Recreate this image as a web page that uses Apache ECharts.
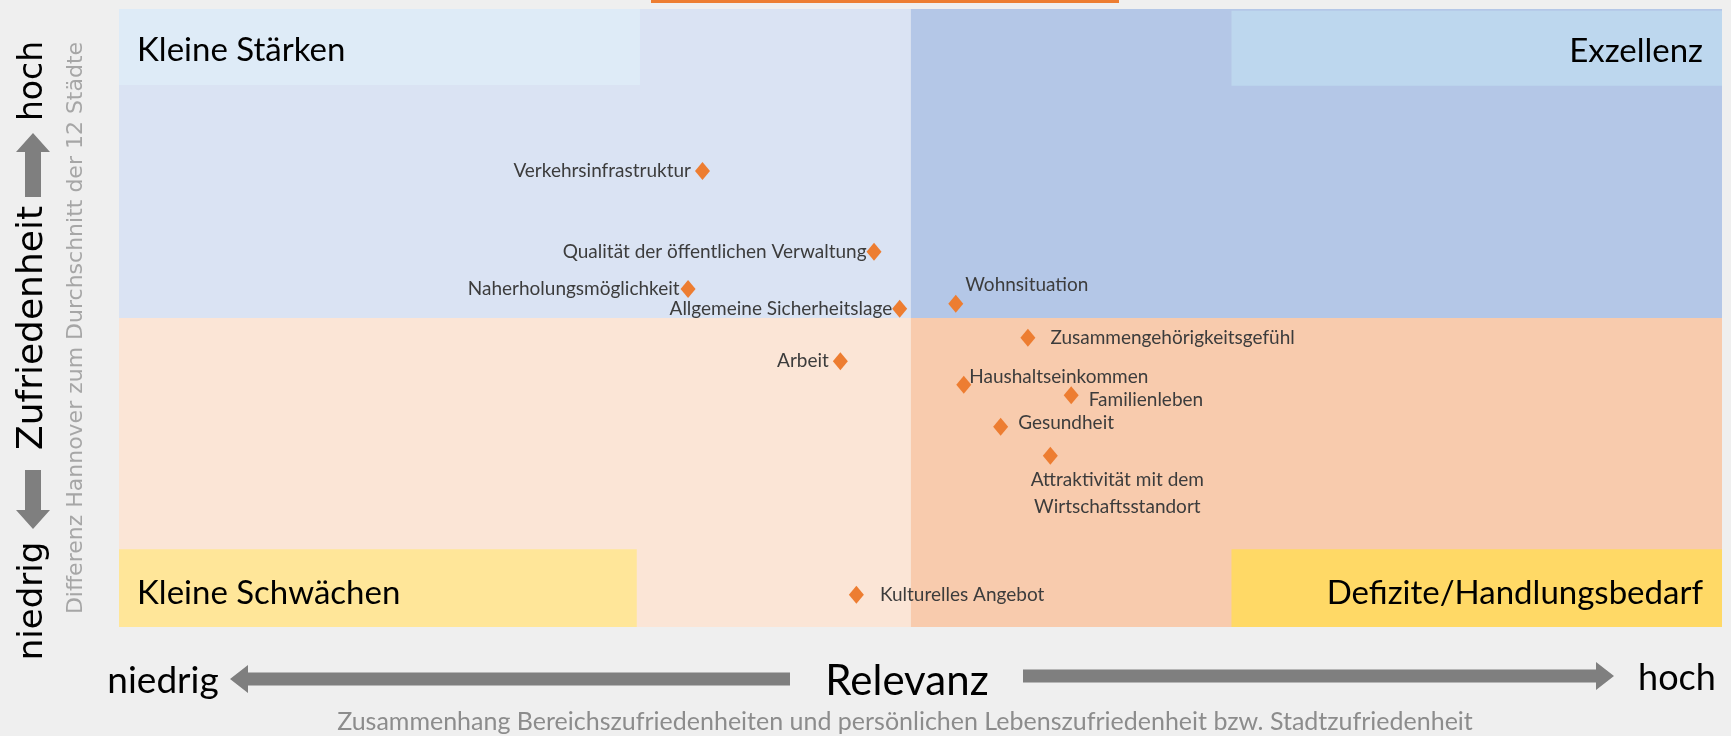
<!DOCTYPE html>
<html>
<head>
<meta charset="utf-8">
<script src="https://cdn.jsdelivr.net/npm/echarts@6/dist/echarts.min.js"></script>
<style>
  html, body { margin: 0; padding: 0; background: #efefef; }
  #chart { width: 1731px; height: 736px; }
</style>
</head>
<body>
<div id="chart"></div>
<script>
// ---- Data (abstract units) ----
const categories = [
  'Verkehrsinfrastruktur',
  'Qualität der öffentlichen Verwaltung',
  'Naherholungsmöglichkeit',
  'Allgemeine Sicherheitslage',
  'Wohnsituation',
  'Zusammengehörigkeitsgefühl',
  'Arbeit',
  'Haushaltseinkommen',
  'Familienleben',
  'Gesundheit',
  'Attraktivität mit dem\nWirtschaftsstandort',
  'Kulturelles Angebot'
];
const relevanz  = [36.4, 47.1, 35.5, 48.7, 52.2, 56.7, 45.0, 52.7, 59.4, 55.0, 58.1, 46.0];
const differenz = [23.8, 10.7, 4.7, 1.5, 2.3, -3.2, -7.0, -10.8, -12.5, -17.6, -22.3, -44.8];

// axis ranges and quadrant split (abstract units)
const xRange = [0, 100];
const yRange = [-50, 50];
const xSplit = 49.4;
const ySplit = 0;

// quadrant names
const quadrantNames = ['Kleine Stärken', 'Exzellenz', 'Kleine Schwächen', 'Defizite/Handlungsbedarf'];

// ---- Styles / label placement ----
const labelCfg = {
  'Verkehrsinfrastruktur': { position: 'left', distance: 4 },
  'Qualität der öffentlichen Verwaltung': { position: 'left', distance: 0 },
  'Naherholungsmöglichkeit': { position: 'left', distance: 1 },
  'Allgemeine Sicherheitslage': { position: 'left', distance: 0 },
  'Wohnsituation': { position: 'right', distance: 2 },
  'Zusammengehörigkeitsgefühl': { position: 'right', distance: 15 },
  'Arbeit': { position: 'left', distance: 4 },
  'Haushaltseinkommen': { position: 'right', distance: -2 },
  'Familienleben': { position: 'right', distance: 10 },
  'Gesundheit': { position: 'right', distance: 10 },
  'Attraktivität mit dem\nWirtschaftsstandort': { position: 'bottom', distance: 6, align: 'center', lineHeight: 27 },
  'Kulturelles Angebot': { position: 'right', distance: 16 }
};
const labelShift = {
  'Wohnsituation': [0, -19],
  'Haushaltseinkommen': [0, -8],
  'Familienleben': [0, 5],
  'Gesundheit': [0, -4],
  'Attraktivität mit dem\nWirtschaftsstandort': [67, -4]
};

const calibri = 'Lato, "Open Sans", sans-serif';
const verdana = '"DejaVu Sans", Verdana, sans-serif';

const points = categories.map((c, i) => ({
  name: c,
  value: [relevanz[i], differenz[i]],
  label: Object.assign({ show: true }, labelCfg[c])
}));

const chart = echarts.init(document.getElementById('chart'), null, { renderer: 'canvas' });

const arrowGray = '#7f7f7f';

function hArrow(x1, x2, y, dir) {
  const sh = 6.5, hh = 14, hl = 18;
  const base = x2 - dir * hl;
  return {
    type: 'polygon', silent: true,
    shape: { points: [[x1, y - sh], [base, y - sh], [base, y - hh], [x2, y], [base, y + hh], [base, y + sh], [x1, y + sh]] },
    style: { fill: arrowGray }
  };
}
function vArrow(y1, y2, x, dir) {
  const sh = 8, hh = 17, hl = 19;
  const base = y2 - dir * hl;
  return {
    type: 'polygon', silent: true,
    shape: { points: [[x - sh, y1], [x - sh, base], [x - hh, base], [x, y2], [x + hh, base], [x + sh, base], [x + sh, y1]] },
    style: { fill: arrowGray }
  };
}
function rotText(text, x, y, size, color, family) {
  return {
    type: 'text', silent: true, x: x, y: y, rotation: Math.PI / 2,
    style: { text: text, fill: color, font: size + 'px ' + family, align: 'center', verticalAlign: 'middle' }
  };
}

const option = {
  backgroundColor: '#efefef',
  animation: false,
  grid: { left: 119, right: 9, top: 9, bottom: 109 },
  xAxis: { type: 'value', min: xRange[0], max: xRange[1], show: false, splitLine: { show: false } },
  yAxis: { type: 'value', min: yRange[0], max: yRange[1], show: false, splitLine: { show: false } },
  series: [
    {
      type: 'scatter', data: [], z: 1, silent: true,
      markArea: {
        silent: true,
        data: [
          [{ xAxis: xRange[0], yAxis: ySplit, itemStyle: { color: '#dae3f3' } }, { xAxis: xSplit, yAxis: yRange[1] }],
          [{ xAxis: xSplit, yAxis: ySplit, itemStyle: { color: '#b4c7e7' } }, { xAxis: xRange[1], yAxis: yRange[1] }],
          [{ xAxis: xRange[0], yAxis: yRange[0], itemStyle: { color: '#fbe5d6' } }, { xAxis: xSplit, yAxis: ySplit }],
          [{ xAxis: xSplit, yAxis: yRange[0], itemStyle: { color: '#f8cbad' } }, { xAxis: xRange[1], yAxis: ySplit }]
        ]
      }
    },
    {
      type: 'scatter', data: [], z: 2, silent: true,
      markArea: {
        silent: true,
        label: { color: '#000', fontFamily: calibri, fontSize: 33 },
        data: [
          [{ name: quadrantNames[0], xAxis: xRange[0], yAxis: 37.7, itemStyle: { color: '#deebf7' }, label: { position: 'insideLeft', distance: 18, offset: [0, 3] } }, { xAxis: 32.5, yAxis: yRange[1] }],
          [{ name: quadrantNames[1], xAxis: 69.4, yAxis: 37.6, itemStyle: { color: '#bdd7ee' }, label: { position: 'insideRight', distance: 19, offset: [0, 3] } }, { xAxis: xRange[1], yAxis: 49.7 }],
          [{ name: quadrantNames[2], xAxis: xRange[0], yAxis: yRange[0], itemStyle: { color: '#ffe699' }, label: { position: 'insideLeft', distance: 18, offset: [0, 5] } }, { xAxis: 32.3, yAxis: -37.4 }],
          [{ name: quadrantNames[3], xAxis: 69.4, yAxis: yRange[0], itemStyle: { color: '#ffd966' }, label: { position: 'insideRight', distance: 19, offset: [0, 5] } }, { xAxis: xRange[1], yAxis: -37.4 }]
        ]
      }
    },
    {
      type: 'scatter',
      z: 5,
      symbol: 'diamond',
      symbolSize: [15, 18],
      itemStyle: { color: '#ed7d31', opacity: 1 },
      label: {
        show: true,
        formatter: '{b}',
        color: '#3c3c3c',
        fontFamily: calibri,
        fontSize: 19
      },
      labelLayout: function (params) {
        const s = labelShift[categories[params.dataIndex]];
        return s ? { dx: s[0], dy: s[1], hideOverlap: false } : { hideOverlap: false };
      },
      data: points
    }
  ],
  graphic: [
    { type: 'rect', silent: true, shape: { x: 651, y: 0, width: 468, height: 3 }, style: { fill: '#ed7d31' } },
    rotText('hoch', 33, 81, 33, '#000', verdana),
    vArrow(197, 133, 33, -1),
    rotText('Zufriedenheit', 33, 328, 36, '#000', verdana),
    vArrow(470, 529, 33, 1),
    rotText('niedrig', 33, 601, 34, '#000', verdana),
    rotText('Differenz Hannover zum Durchschnitt der 12 Städte', 76, 328, 22, '#a6a6a6', verdana),
    { type: 'text', silent: true, x: 163, y: 681, style: { text: 'niedrig', font: '37px ' + calibri, fill: '#000', align: 'center', verticalAlign: 'middle' } },
    hArrow(790, 230, 679, -1),
    { type: 'text', silent: true, x: 907, y: 681, style: { text: 'Relevanz', font: '42px ' + calibri, fill: '#000', align: 'center', verticalAlign: 'middle' } },
    hArrow(1023, 1614, 676, 1),
    { type: 'text', silent: true, x: 1677, y: 678, style: { text: 'hoch', font: '36px ' + calibri, fill: '#000', align: 'center', verticalAlign: 'middle' } },
    { type: 'text', silent: true, x: 905, y: 722, style: { text: 'Zusammenhang Bereichszufriedenheiten und persönlichen Lebenszufriedenheit bzw. Stadtzufriedenheit', font: '25px ' + calibri, fill: '#8c8c8c', align: 'center', verticalAlign: 'middle' } }
  ]
};
chart.setOption(option);
</script>
</body>
</html>
